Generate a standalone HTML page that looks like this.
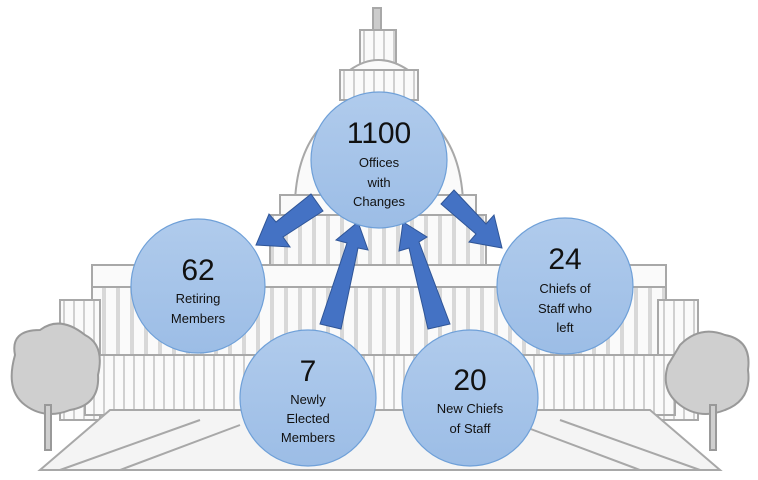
<!DOCTYPE html>
<html><head><style>
body{margin:0;width:758px;height:480px;background:#fff;overflow:hidden;font-family:"Liberation Sans",sans-serif}
svg{position:absolute;left:0;top:0}
</style></head><body>
<svg width="758" height="480" viewBox="0 0 758 480">
<defs>
<linearGradient id="g" x1="0" y1="0" x2="0" y2="1"><stop offset="0" stop-color="#b0cbec"/><stop offset="1" stop-color="#9cbde6"/></linearGradient>
<pattern id="col" width="14" height="40" patternUnits="userSpaceOnUse"><rect width="14" height="40" fill="#fafafa"/><rect x="4" width="4" height="40" fill="#d8d8d8"/></pattern>
<pattern id="col2" width="10" height="40" patternUnits="userSpaceOnUse"><rect width="10" height="40" fill="#fafafa"/><rect x="3" width="2" height="40" fill="#d0d0d0"/></pattern>
</defs>
<g stroke="#a8a8a8" stroke-width="2" fill="#fafafa">
<rect x="373" y="8" width="8" height="22" fill="#ccc"/>
<rect x="360" y="30" width="36" height="40" fill="url(#col2)"/>
<path d="M350 70 Q378 50 408 70 Z"/>
<rect x="340" y="70" width="78" height="30" fill="url(#col2)"/>
<path d="M295 200 Q300 110 378 100 Q458 110 463 200 Z"/>
<rect x="280" y="195" width="196" height="20"/>
<rect x="270" y="215" width="216" height="55" fill="url(#col)"/>
<rect x="92" y="265" width="574" height="22"/>
<rect x="92" y="287" width="574" height="70" fill="url(#col)"/>
<rect x="60" y="300" width="40" height="120" fill="url(#col2)"/>
<rect x="658" y="300" width="40" height="120" fill="url(#col2)"/>
<rect x="85" y="355" width="590" height="60" fill="url(#col2)"/>
<path d="M40 470 L110 410 L650 410 L720 470 Z" fill="#f4f4f4"/>
<path d="M60 470 L200 420 M700 470 L560 420 M120 470 L240 425 M640 470 L520 425" fill="none"/>
</g>
<g fill="#cfcfcf" stroke="#999" stroke-width="2">
<path d="M15 355 Q10 330 40 330 Q60 315 85 335 Q105 345 98 375 Q100 405 70 410 Q45 420 25 405 Q5 390 15 355 Z"/>
<path d="M680 345 Q700 325 725 335 Q752 340 748 370 Q752 400 725 410 Q700 420 680 405 Q660 390 668 365 Z"/>
<rect x="45" y="405" width="6" height="45"/><rect x="710" y="405" width="6" height="45"/>
</g>
<g fill="#4472c4" stroke="#2f5597" stroke-width="1">
<polygon points="311,194 323,211 283,237 290,247 256,245 269,214 276,222"/>
<polygon points="441,204 454,190 486,224 494,215 502,248 469,242 476,234"/>
<polygon points="320,324 341,329 358,248 368,250 358,222 336,240 347,243"/>
<polygon points="450,324 428,329 409,248 399,251 403,222 427,237 419,242"/>
</g>
<g fill="url(#g)" stroke="#6fa0d8" stroke-width="1.2">
<circle cx="379" cy="160" r="68"/>
<circle cx="198" cy="286" r="67"/>
<circle cx="565" cy="286" r="68"/>
<circle cx="308" cy="398" r="68"/>
<circle cx="470" cy="398" r="68"/>
</g>
<g font-family="Liberation Sans,sans-serif" text-anchor="middle" fill="#111">
<text x="379" y="143" font-size="30">1100</text>
<text x="379" y="167" font-size="13">Offices</text>
<text x="379" y="187" font-size="13">with</text>
<text x="379" y="206" font-size="13">Changes</text>
<text x="198" y="280" font-size="30">62</text>
<text x="198" y="303" font-size="13">Retiring</text>
<text x="198" y="323" font-size="13">Members</text>
<text x="565" y="269" font-size="30">24</text>
<text x="565" y="293" font-size="13">Chiefs of</text>
<text x="565" y="313" font-size="13">Staff who</text>
<text x="565" y="332" font-size="13">left</text>
<text x="308" y="381" font-size="30">7</text>
<text x="308" y="404" font-size="13">Newly</text>
<text x="308" y="423" font-size="13">Elected</text>
<text x="308" y="442" font-size="13">Members</text>
<text x="470" y="390" font-size="30">20</text>
<text x="470" y="413" font-size="13">New Chiefs</text>
<text x="470" y="433" font-size="13">of Staff</text>
</g>
</svg>
</body></html>
